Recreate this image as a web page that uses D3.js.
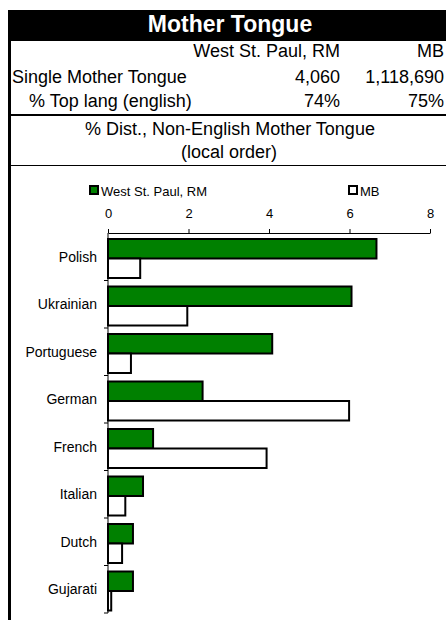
<!DOCTYPE html>
<html>
<head>
<meta charset="utf-8">
<script src="https://cdn.jsdelivr.net/npm/d3@7"></script>
<style>
	body { margin: 0; background: #fff; }
	svg { display: block; font-family: 'Liberation Sans', Arial, sans-serif; }
</style>
</head>
<body>
<div id="chart"></div>
<script>
// data
var title = 'Mother Tongue';
var regions = ['West St. Paul, RM', 'MB'];
var singleMT = ['4,060', '1,118,690'];
var topLang = ['74%', '75%'];
var categories = ['Polish', 'Ukrainian', 'Portuguese', 'German', 'French', 'Italian', 'Dutch', 'Gujarati'];
var localValues = [6.67, 6.05, 4.08, 2.35, 1.12, 0.87, 0.62, 0.62];
var mbValues = [0.80, 1.97, 0.57, 5.99, 3.94, 0.43, 0.35, 0.08];
var xTicks = [0, 2, 4, 6, 8];

var colors = ['#008000', '#ffffff'];

var width = 446, height = 620;
var margin = { top: 233, right: 16, bottom: 7, left: 108 };

var svg = d3.select('#chart').append('svg')
	.attr('width', width)
	.attr('height', height);

// header block
svg.append('rect')
	.attr('x', 8).attr('y', 10)
	.attr('width', width - 8).attr('height', 31)
	.attr('fill', '#000');

svg.append('text')
	.attr('x', 230).attr('y', 32)
	.attr('text-anchor', 'middle')
	.attr('fill', '#fff')
	.style('font-size', '23px')
	.style('font-weight', 'bold')
	.text(title);

// left border
svg.append('rect')
	.attr('x', 8).attr('y', 41)
	.attr('width', 3).attr('height', height - 41)
	.attr('fill', '#000');

// summary table
var colX = [340, 444];
var table = svg.append('g').style('font-size', '18px');

table.selectAll('.region')
	.data(regions)
	.enter().append('text')
	.attr('x', function(d, i) { return colX[i]; })
	.attr('y', 57)
	.attr('text-anchor', 'end')
	.text(function(d) { return d; });

table.append('text').attr('x', 12).attr('y', 83).text('Single Mother Tongue');
table.selectAll('.smt')
	.data(singleMT)
	.enter().append('text')
	.attr('x', function(d, i) { return colX[i]; })
	.attr('y', 83)
	.attr('text-anchor', 'end')
	.text(function(d) { return d; });

table.append('text').attr('x', 29).attr('y', 107).text('% Top lang (english)');
table.selectAll('.top')
	.data(topLang)
	.enter().append('text')
	.attr('x', function(d, i) { return colX[i]; })
	.attr('y', 107)
	.attr('text-anchor', 'end')
	.text(function(d) { return d; });

svg.append('rect').attr('x', 10).attr('y', 114).attr('width', width - 10).attr('height', 2).attr('fill', '#000');

svg.append('text')
	.attr('x', 230).attr('y', 135)
	.attr('text-anchor', 'middle')
	.style('font-size', '18px')
	.text('% Dist., Non-English Mother Tongue');
svg.append('text')
	.attr('x', 229).attr('y', 158)
	.attr('text-anchor', 'middle')
	.style('font-size', '18px')
	.text('(local order)');

svg.append('rect').attr('x', 10).attr('y', 165).attr('width', width - 10).attr('height', 1).attr('fill', '#000');

// legend
var legendX = [89, 348];
var legend = svg.selectAll('.legend')
	.data(regions)
	.enter().append('g')
	.attr('class', 'legend')
	.attr('transform', function(d, i) { return 'translate(' + legendX[i] + ',186)'; });

legend.append('rect')
	.attr('x', 1).attr('y', 0)
	.attr('width', 8).attr('height', 8)
	.attr('fill', function(d, i) { return colors[i]; })
	.attr('stroke', '#000')
	.attr('stroke-width', 2);

legend.append('text')
	.attr('x', 12).attr('y', 10)
	.style('font-size', '13px')
	.text(function(d) { return d; });

// scales & axes
var x = d3.scaleLinear()
	.domain([0, 8])
	.range([margin.left, width - margin.right]);

var y = d3.scaleBand()
	.domain(categories)
	.range([margin.top, height - margin.bottom]);

var ySub = d3.scaleBand()
	.domain([0, 1])
	.range([6, 45]);

var xAxis = svg.append('g')
	.attr('transform', 'translate(0,' + margin.top + ')')
	.call(d3.axisTop(x).tickValues(xTicks).tickSize(4).tickSizeOuter(0).tickPadding(11));

xAxis.select('.domain').attr('stroke', '#000');
xAxis.selectAll('.tick line').attr('stroke', '#000');
xAxis.selectAll('.tick text')
	.style('font-size', '13px')
	.style('font-family', "'Liberation Sans', Arial, sans-serif")
	.attr('fill', '#000');

// left axis with ticks on band boundaries
var yAxis = svg.append('g').attr('class', 'y axis');
yAxis.append('line')
	.attr('x1', margin.left).attr('x2', margin.left)
	.attr('y1', margin.top).attr('y2', height - margin.bottom)
	.attr('stroke', '#000');

var boundaries = categories.map(function(c) { return y(c) + y.bandwidth(); });
yAxis.selectAll('.sep')
	.data(boundaries)
	.enter().append('line')
	.attr('x1', margin.left - 4).attr('x2', margin.left)
	.attr('y1', function(d) { return d; }).attr('y2', function(d) { return d; })
	.attr('stroke', '#000');

yAxis.selectAll('.cat')
	.data(categories)
	.enter().append('text')
	.attr('x', 97)
	.attr('y', function(d) { return y(d) + y.bandwidth() / 2 + 5; })
	.attr('text-anchor', 'end')
	.style('font-size', '14px')
	.text(function(d) { return d; });

// bars
var rows = categories.map(function(c, i) {
	return { key: c, values: [localValues[i], mbValues[i]] };
});

var group = svg.selectAll('.bar')
	.data(rows)
	.enter().append('g')
	.attr('class', 'bar')
	.attr('transform', function(d) { return 'translate(0,' + y(d.key) + ')'; });

group.selectAll('rect')
	.data(function(d) { return d.values; })
	.enter().append('rect')
	.attr('x', x(0))
	.attr('y', function(d, i) { return ySub(i); })
	.attr('width', function(d) { return x(d) - x(0); })
	.attr('height', ySub.bandwidth())
	.attr('fill', function(d, i) { return colors[i]; })
	.attr('stroke', '#000')
	.attr('stroke-width', 2);
</script>
</body>
</html>
